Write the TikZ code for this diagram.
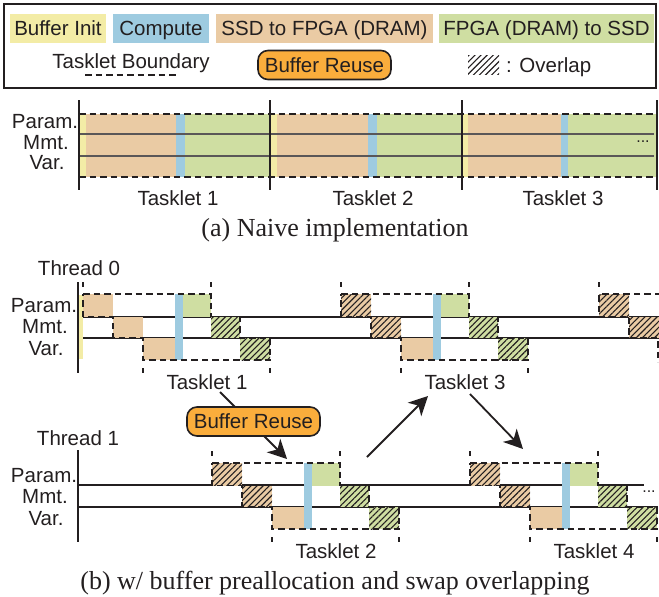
\documentclass[tikz,border=0pt]{standalone}
\usepackage{fontspec}
\setmainfont{Liberation Sans}
\newfontfamily\capfont{Liberation Serif}
\usetikzlibrary{patterns.meta,arrows.meta}
\definecolor{cY}{RGB}{243,236,166}
\definecolor{cB}{RGB}{158,203,224}
\definecolor{cO}{RGB}{234,203,164}
\definecolor{cG}{RGB}{207,222,162}
\definecolor{cR}{RGB}{250,173,60}
\definecolor{ink}{RGB}{35,31,32}
\tikzset{
 lbl/.style={font=\fontsize{20.5}{24}\selectfont, text=ink, inner sep=0pt, anchor=base},
 capt/.style={font=\capfont\fontsize{26}{30}\selectfont, text=ink, inner sep=0pt, anchor=base},
 dots/.style={font=\fontsize{16}{20}\selectfont, text=ink, inner sep=0pt},
 dashln/.style={draw=ink, line width=1.8pt, dash pattern=on 6.5pt off 4pt},
 tick/.style={draw=ink, line width=1.8pt},
 rowln/.style={draw=ink, line width=1.2pt},
 rowlnA/.style={draw=ink!75, line width=1.2pt},
 axis/.style={draw=ink, line width=2pt},
 hatch/.style={pattern={Lines[angle=45,distance=4.3pt,line width=1.1pt]}, pattern color=ink},
 plain/.style={},
 legbox/.style={font=\fontsize{20.5}{24}\selectfont, text=ink, inner sep=0pt, text height=14.5pt, text depth=0pt, minimum height=29pt, anchor=center},
 reuse/.style={legbox, fill=cR, draw=ink, line width=1.6pt, rounded corners=10pt, minimum width=133pt},
 arr/.style={draw=ink, line width=1.8pt, -{Stealth[length=19pt,width=19pt,inset=5.5pt]}}
}
\newcommand\tskB[5]{%
 \begin{scope}[shift={(#1,#2)}]
  \fill[cO] (0,0) rectangle (30,22.5);
  \path[#3] (0,0) rectangle (30,22.5);
  \fill[cO] (30,22.5) rectangle (60,44);
  \path[#3] (30,22.5) rectangle (60,44);
  \fill[cO] (60,44) rectangle (92,66);
  \fill[cB] (92,0) rectangle (100,66);
  \fill[cG] (100,0) rectangle (128,22.5);
  \fill[cG] (128,22.5) rectangle (157,44);
  \path[hatch] (128,22.5) rectangle (157,44);
  \fill[cG] (157,44) rectangle (187,66);
  \path[hatch] (157,44) rectangle (187,66);
  \draw[dashln] (0,0) -- (128,0) -- (128,22.5) -- (157,22.5) -- (157,44) -- (187,44) -- (187,66)
     -- (60,66) -- (60,44) -- (30,44) -- (30,22.5) -- (0,22.5) -- cycle;
  \draw[tick] (0,-12) -- (0,-7) (128,-12) -- (128,-7) (60,74) -- (60,79) (187,74) -- (187,79);
  \node[lbl] (#4) at (124,95) {#5};
 \end{scope}}
\begin{document}
\begin{tikzpicture}[x=1pt,y=-1pt]
\useasboundingbox (0,0) rectangle (659,597);
\clip (0,0) rectangle (659,597);
% ---------- legend ----------
\draw[draw=ink, line width=2.2pt] (4,4) rectangle (656,88);
\node[legbox, fill=cY, minimum width=96pt] (lgY) at (58,28.5) {Buffer Init};
\node[legbox, fill=cB, minimum width=96pt] (lgB) at (161,28.5) {Compute};
\node[legbox, fill=cO, minimum width=217pt] (lgO) at (324.5,28.5) {SSD to FPGA (DRAM)};
\node[legbox, fill=cG, minimum width=215pt] (lgG) at (546.5,28.5) {FPGA (DRAM) to SSD};
\node[lbl] (lgT) at (131,68) {Tasklet Boundary};
\coordinate (lgd1) at (85,75);
\coordinate (lgd2) at (178,75);
\draw[dashln] (lgd1) -- (lgd2);
\node[reuse] (lgR) at (324.5,65) {Buffer Reuse};
\path[hatch] (468,55) rectangle (499,74);
\node[lbl, anchor=base west] (lgH) at (506,72) {: Overlap};
% ---------- (a) ----------
\fill[cY] (80,114) rectangle (86,177);
\fill[cO] (86,114) rectangle (176,177);
\fill[cB] (176,114) rectangle (185,177);
\fill[cG] (185,114) rectangle (270,177);
\fill[cY] (270,114) rectangle (277,177);
\fill[cO] (277,114) rectangle (368,177);
\fill[cB] (368,114) rectangle (377,177);
\fill[cG] (377,114) rectangle (462,177);
\fill[cY] (462,114) rectangle (468,177);
\fill[cO] (468,114) rectangle (561,177);
\fill[cB] (561,114) rectangle (568,177);
\fill[cG] (568,114) rectangle (657,177);
\draw[rowlnA] (79,134) -- (654,134) (79,156) -- (654,156);
\draw[dashln] (79,114) -- (657,114) (79,177) -- (657,177);
\draw[axis] (79,100) -- (79,190) (270,100) -- (270,190) (462,100) -- (462,190) (657,100) -- (657,190);
\node[dots] (dA) at (643,142) {...};
\node[lbl, anchor=base] (aP) at (45,128) {Param.};
\node[lbl, anchor=base] (aM) at (46,149) {Mmt.};
\node[lbl, anchor=base] (aV) at (47,169) {Var.};
\node[lbl] (aT1) at (178,205) {Tasklet 1};
\node[lbl] (aT2) at (373,205) {Tasklet 2};
\node[lbl] (aT3) at (563,205) {Tasklet 3};
\node[capt] (capA) at (335,236) {(a) Naive implementation};
% ---------- (b) thread 0 ----------
\node[lbl] (th0) at (79,275) {Thread 0};
\draw[rowln] (78,317) -- (659,317) (78,338) -- (659,338);
\draw[axis] (78,282) -- (78,373);
\fill[cY] (79,295) rectangle (83,359);
\node[lbl] (bP0) at (44,312) {Param.};
\node[lbl] (bM0) at (45,333) {Mmt.};
\node[lbl] (bV0) at (46,355) {Var.};
\tskB{83}{294}{plain}{t1}{Tasklet 1}
\tskB{341}{294}{hatch}{t3}{Tasklet 3}
% partial tasklet 5
\fill[cO] (599,294) rectangle (629,316.5);
\path[hatch] (599,294) rectangle (629,316.5);
\fill[cO] (629,316.5) rectangle (659,338);
\path[hatch] (629,316.5) rectangle (659,338);
\draw[dashln] (661,294) -- (599,294) -- (599,316.5) -- (629,316.5) -- (629,338) -- (658,338) -- (658,362);
\draw[tick] (599,282) -- (599,287);
% ---------- (b) thread 1 ----------
\node[lbl] (th1) at (78,445) {Thread 1};
\draw[rowln] (78,485) -- (644,485) (78,507) -- (657,507);
\draw[axis] (78,450) -- (78,542);
\node[lbl] (bP1) at (44,482) {Param.};
\node[lbl] (bM1) at (45,503) {Mmt.};
\node[lbl] (bV1) at (46,525) {Var.};
\tskB{212}{463}{hatch}{t2}{Tasklet 2}
\tskB{470}{463}{hatch}{t4}{Tasklet 4}
\node[dots] (dB) at (649,492) {...};
% ---------- arrows ----------
\coordinate (a1s) at (220,392);
\coordinate (a1e) at (287,459);
\coordinate (a2s) at (367,457);
\coordinate (a2e) at (428,396);
\coordinate (a3s) at (470,394);
\coordinate (a3e) at (523,449);
\draw[arr] (a1s) -- (a1e);
\draw[arr] (a2s) -- (a2e);
\draw[arr] (a3s) -- (a3e);
\node[reuse] (bR) at (253.5,421.5) {Buffer Reuse};
\node[capt] (capB) at (335,589) {(b) w/ buffer preallocation and swap overlapping};
\end{tikzpicture}
\end{document}
